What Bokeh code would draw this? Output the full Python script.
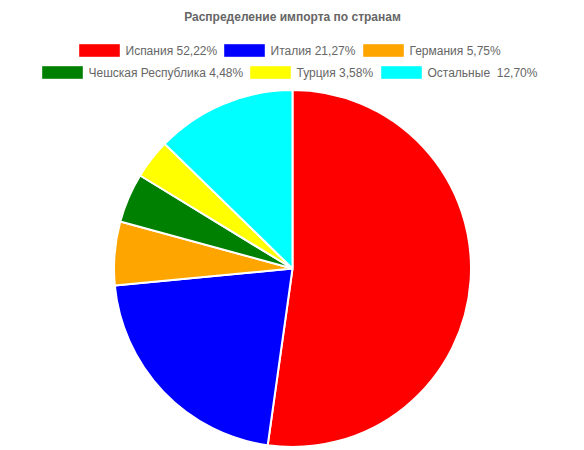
import math
from bokeh.plotting import figure
from bokeh.models import Range1d, ColumnDataSource
from bokeh.core.properties import value
from bokeh.embed import file_html
from bokeh.resources import INLINE

title = "Распределение импорта по странам"
countries = ["Испания", "Италия", "Германия", "Чешская Республика", "Турция", "Остальные\u00a0"]
shares = [52.22, 21.27, 5.75, 4.48, 3.58, 12.70]
colors = ["#FF0000", "#0000FF", "#FFA500", "#008000", "#FFFF00", "#00FFFF"]
labels = [f"{c} {v:.2f}%".replace(".", ",") for c, v in zip(countries, shares)]

W, H = 584, 450
p = figure(width=W, height=H, output_backend="svg", toolbar_location=None,
           x_range=Range1d(0, W), y_range=Range1d(0, H), min_border=0,
           outline_line_color=None)
p.axis.visible = False
p.grid.visible = False
p.background_fill_color = "white"
p.border_fill_color = "white"

# pie (screen-pixel coordinate system: x = img_x, y = 450 - img_y)
cx, cy, r = 292, 182, 178.5
total = sum(shares)
starts, ends = [], []
cum = 0.0
for v in shares:
    starts.append(math.pi / 2 - 2 * math.pi * cum / total)
    cum += v
    ends.append(math.pi / 2 - 2 * math.pi * cum / total)
src = ColumnDataSource(dict(start=starts, end=ends, color=colors))
p.wedge(x=cx, y=cy, radius=r, start_angle="start", end_angle="end",
        direction="clock", fill_color="color", line_color="white",
        line_width=2, source=src)

# title
p.text(x=[292], y=[434], text=[title], text_font=value("Liberation Sans"),
       text_font_size="12px", text_font_style="bold", text_color="#666666",
       text_align="center", text_baseline="middle")

# legend (manual, two centered rows)
box_left = [79, 224, 363, 42, 250, 381]
row_y = [50, 50, 50, 72, 72, 72]
bx = [b + 20 for b in box_left]
by = [450 - y for y in row_y]
tx = [b + 46 for b in box_left]
p.rect(x=bx, y=by, width=40, height=12, fill_color=colors,
       line_color=colors, line_alpha=0.6, line_width=1)
p.text(x=tx, y=by, text=labels, text_font=value("Liberation Sans"),
       text_font_size="12px", text_color="#666666",
       text_align="left", text_baseline="middle")

open("out.html", "w").write(file_html(p, INLINE))
